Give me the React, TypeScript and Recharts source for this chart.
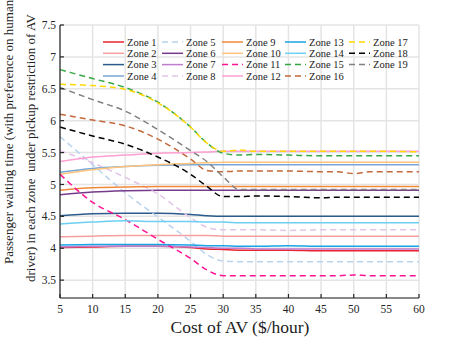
import { CartesianGrid, Line, LineChart, XAxis, YAxis } from 'recharts';

const xs = [5, 10, 15, 20, 25, 27.5, 30, 32.5, 35, 40, 45, 47.5, 50, 52.5, 55, 60];

const zone1 = [4.01, 4.02, 4.03, 4.03, 4.01, 3.99, 3.98, 3.97, 3.97, 3.97, 3.96, 3.96, 3.96, 3.96, 3.96, 3.96];
const zone2 = [4.18, 4.19, 4.2, 4.2, 4.2, 4.2, 4.19, 4.19, 4.19, 4.19, 4.19, 4.19, 4.19, 4.19, 4.19, 4.19];
const zone3 = [4.51, 4.54, 4.55, 4.55, 4.53, 4.51, 4.5, 4.5, 4.5, 4.5, 4.5, 4.5, 4.5, 4.5, 4.5, 4.5];
const zone4 = [5.19, 5.25, 5.28, 5.3, 5.31, 5.31, 5.31, 5.31, 5.31, 5.31, 5.31, 5.31, 5.31, 5.31, 5.31, 5.31];
const zone5 = [5.75, 5.31, 4.87, 4.49, 4.11, 3.9, 3.8, 3.79, 3.79, 3.79, 3.79, 3.79, 3.79, 3.79, 3.79, 3.79];
const zone6 = [4.84, 4.88, 4.9, 4.91, 4.91, 4.91, 4.91, 4.91, 4.91, 4.91, 4.91, 4.91, 4.91, 4.91, 4.91, 4.91];
const zone7 = [4.02, 4.03, 4.03, 4.03, 4.02, 4.01, 4.0, 4.0, 3.99, 3.99, 3.99, 3.99, 3.99, 3.99, 3.99, 3.99];
const zone8 = [5.53, 5.34, 5.11, 4.85, 4.48, 4.33, 4.29, 4.29, 4.29, 4.28, 4.29, 4.29, 4.29, 4.29, 4.29, 4.29];
const zone9 = [4.91, 4.95, 4.96, 4.97, 4.97, 4.97, 4.97, 4.97, 4.97, 4.97, 4.97, 4.97, 4.97, 4.97, 4.97, 4.97];
const zone10 = [5.16, 5.23, 5.28, 5.31, 5.33, 5.34, 5.35, 5.35, 5.35, 5.35, 5.35, 5.35, 5.35, 5.35, 5.35, 5.35];
const zone11 = [5.16, 4.72, 4.45, 4.14, 3.84, 3.66, 3.57, 3.57, 3.57, 3.57, 3.57, 3.57, 3.58, 3.57, 3.57, 3.57];
const zone12 = [5.36, 5.43, 5.46, 5.49, 5.5, 5.51, 5.52, 5.52, 5.52, 5.52, 5.52, 5.52, 5.52, 5.52, 5.52, 5.52];
const zone13 = [4.05, 4.06, 4.06, 4.06, 4.05, 4.04, 4.04, 4.03, 4.03, 4.04, 4.03, 4.03, 4.03, 4.03, 4.03, 4.03];
const zone14 = [4.38, 4.41, 4.43, 4.42, 4.42, 4.41, 4.41, 4.4, 4.4, 4.4, 4.4, 4.4, 4.4, 4.4, 4.4, 4.4];
const zone15 = [6.8, 6.66, 6.52, 6.29, 5.9, 5.65, 5.49, 5.46, 5.47, 5.46, 5.45, 5.45, 5.45, 5.45, 5.45, 5.45];
const zone16 = [6.1, 6.01, 5.92, 5.71, 5.4, 5.22, 5.2, 5.21, 5.21, 5.21, 5.2, 5.2, 5.17, 5.2, 5.2, 5.2];
const zone17 = [6.57, 6.55, 6.49, 6.28, 5.9, 5.65, 5.52, 5.54, 5.52, 5.52, 5.52, 5.52, 5.52, 5.52, 5.52, 5.51];
const zone18 = [5.9, 5.76, 5.63, 5.43, 5.16, 4.97, 4.81, 4.81, 4.82, 4.81, 4.79, 4.8, 4.8, 4.8, 4.8, 4.8];
const zone19 = [6.52, 6.33, 6.15, 5.86, 5.53, 5.36, 5.12, 4.92, 4.92, 4.92, 4.92, 4.92, 4.92, 4.92, 4.92, 4.92];

const xTicks = [5, 10, 15, 20, 25, 30, 35, 40, 45, 50, 55, 60];
const yTicks = [3.5, 4, 4.5, 5, 5.5, 6, 6.5, 7, 7.5];

const zones = [
  { name: 'Zone 1', values: zone1, color: '#e8252f', dashed: false },
  { name: 'Zone 2', values: zone2, color: '#f5a0a0', dashed: false },
  { name: 'Zone 3', values: zone3, color: '#2b5b8a', dashed: false },
  { name: 'Zone 4', values: zone4, color: '#78a6d6', dashed: false },
  { name: 'Zone 5', values: zone5, color: '#b9d3ee', dashed: true },
  { name: 'Zone 6', values: zone6, color: '#773a8a', dashed: false },
  { name: 'Zone 7', values: zone7, color: '#c07ccd', dashed: false },
  { name: 'Zone 8', values: zone8, color: '#e2c4e8', dashed: true },
  { name: 'Zone 9', values: zone9, color: '#f28a3a', dashed: false },
  { name: 'Zone 10', values: zone10, color: '#ffc47c', dashed: false },
  { name: 'Zone 11', values: zone11, color: '#ff1493', dashed: true },
  { name: 'Zone 12', values: zone12, color: '#ff9fd2', dashed: false },
  { name: 'Zone 13', values: zone13, color: '#19a4e6', dashed: false },
  { name: 'Zone 14', values: zone14, color: '#6ccff2', dashed: false },
  { name: 'Zone 15', values: zone15, color: '#35a844', dashed: true },
  { name: 'Zone 16', values: zone16, color: '#c2683a', dashed: true },
  { name: 'Zone 17', values: zone17, color: '#ffd700', dashed: true },
  { name: 'Zone 18', values: zone18, color: '#000000', dashed: true },
  { name: 'Zone 19', values: zone19, color: '#808080', dashed: true },
];

const data = xs.map((x, i) => {
  const row: Record<string, number> = { x };
  zones.forEach((z) => {
    row[z.name] = z.values[i];
  });
  return row;
});

const FONT = "'Liberation Serif', 'Times New Roman', serif";
const serif = { fontFamily: FONT };
const legendCols = [103, 162, 222, 285, 349];
const legendRows = [42, 53.3, 64.6, 76];

function Overlay() {
  return (
    <svg width={463} height={338} style={{ position: 'absolute', left: 0, top: 0, pointerEvents: 'none' }}>
      {zones.map((z, i) => {
        const cx = legendCols[Math.floor(i / 4)];
        const cy = legendRows[i % 4];
        return (
          <g key={z.name}>
            <line
              x1={cx}
              x2={cx + 21}
              y1={cy}
              y2={cy}
              stroke={z.color}
              strokeWidth={1.5}
              strokeDasharray={z.dashed ? '6 4' : undefined}
            />
            <text x={cx + 24} y={cy + 3.5} fontSize={10.5} fill="#222" style={serif}>
              {z.name}
            </text>
          </g>
        );
      })}
      <text x={240} y={333} fontSize={17.5} textAnchor="middle" fill="#222" style={serif}>
        Cost of AV ($/hour)
      </text>
      <text transform="translate(13,264) rotate(-90)" fontSize={13} fill="#222" style={serif}>
        Passenger waiting time (with preference on human
      </text>
      <text
        transform="translate(35,282) rotate(-90)"
        fontSize={13}
        fill="#222"
        style={{ ...serif, whiteSpace: 'pre' }}
      >
        {'driver) in each zone  under pickup restriction of AV'}
      </text>
    </svg>
  );
}

export default function App() {
  return (
    <div style={{ position: 'absolute', left: 0, top: 0, width: 463, height: 338, background: '#fff' }}>
      <LineChart width={463} height={338} data={data} margin={{ top: 25, right: 44, bottom: 20, left: 30 }}>
        <CartesianGrid stroke="#e4e4e4" strokeWidth={1.5} />
        <XAxis
          dataKey="x"
          type="number"
          domain={[5, 60]}
          ticks={xTicks}
          interval={0}
          height={20}
          tickSize={-4}
          tickMargin={11}
          stroke="#262626"
          strokeWidth={1.2}
          tick={{ fontSize: 11.5, fill: '#262626', fontFamily: FONT }}
        />
        <XAxis
          xAxisId="top"
          orientation="top"
          dataKey="x"
          type="number"
          domain={[5, 60]}
          ticks={xTicks}
          interval={0}
          height={0}
          tickSize={-4}
          tick={false}
          stroke="#262626"
          strokeWidth={1.2}
        />
        <YAxis
          type="number"
          domain={[3.22, 7.5]}
          ticks={yTicks}
          interval={0}
          width={30}
          tickSize={-4}
          tickMargin={8}
          stroke="#262626"
          strokeWidth={1.2}
          tick={{ fontSize: 11.5, fill: '#262626', fontFamily: FONT }}
          allowDataOverflow
        />
        <YAxis
          yAxisId="right"
          orientation="right"
          type="number"
          domain={[3.22, 7.5]}
          ticks={yTicks}
          interval={0}
          width={0}
          tickSize={-4}
          tick={false}
          stroke="#262626"
          strokeWidth={1.2}
          allowDataOverflow
        />
        {zones.map((z) => (
          <Line
            key={z.name}
            dataKey={z.name}
            type="monotone"
            stroke={z.color}
            strokeWidth={1.5}
            strokeDasharray={z.dashed ? '6 4' : undefined}
            dot={false}
            isAnimationActive={false}
          />
        ))}
      </LineChart>
      <Overlay />
    </div>
  );
}
